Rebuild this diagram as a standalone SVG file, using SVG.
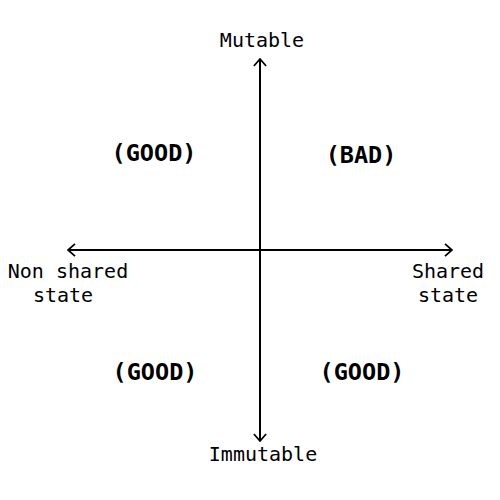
<svg xmlns="http://www.w3.org/2000/svg" width="500" height="500" viewBox="0 0 500 500">
<defs>
<marker id="arr" viewBox="0 0 10 16" refX="9" refY="8" markerWidth="9" markerHeight="14" markerUnits="userSpaceOnUse" orient="auto">
<path d="M1,1 L9,8 L1,15" fill="none" stroke="#000" stroke-width="2"/>
</marker>
<style>
.lbl{font-family:"DejaVu Sans Mono",monospace;font-size:20px;fill:#000;text-anchor:middle}
.q{font-family:"DejaVu Sans Mono",monospace;font-size:23.5px;font-weight:bold;fill:#000;text-anchor:middle}
.ax{stroke:#000;stroke-width:2;fill:none}
</style>
</defs>
<rect width="500" height="500" fill="#fff"/>
<g id="connectors">
<line class="ax" x1="260" y1="250" x2="260" y2="59" marker-end="url(#arr)"/>
<line class="ax" x1="260" y1="250" x2="260" y2="441" marker-end="url(#arr)"/>
<line class="ax" x1="260" y1="250" x2="68" y2="250" marker-end="url(#arr)"/>
<line class="ax" x1="260" y1="250" x2="452" y2="250" marker-end="url(#arr)"/>
</g>
<g id="mutable"><text class="lbl" x="262" y="47">Mutable</text></g>
<g id="immutable"><text class="lbl" x="263" y="461">Immutable</text></g>
<g id="nonshared"><text class="lbl" x="68" y="278">Non shared</text><text class="lbl" x="63" y="302">state</text></g>
<g id="shared"><text class="lbl" x="448" y="278">Shared</text><text class="lbl" x="448" y="302">state</text></g>
<g id="q1"><text class="q" x="154" y="161">(GOOD)</text></g>
<g id="q2"><text class="q" x="361" y="163">(BAD)</text></g>
<g id="q3"><text class="q" x="155" y="380">(GOOD)</text></g>
<g id="q4"><text class="q" x="362" y="380">(GOOD)</text></g>
</svg>
